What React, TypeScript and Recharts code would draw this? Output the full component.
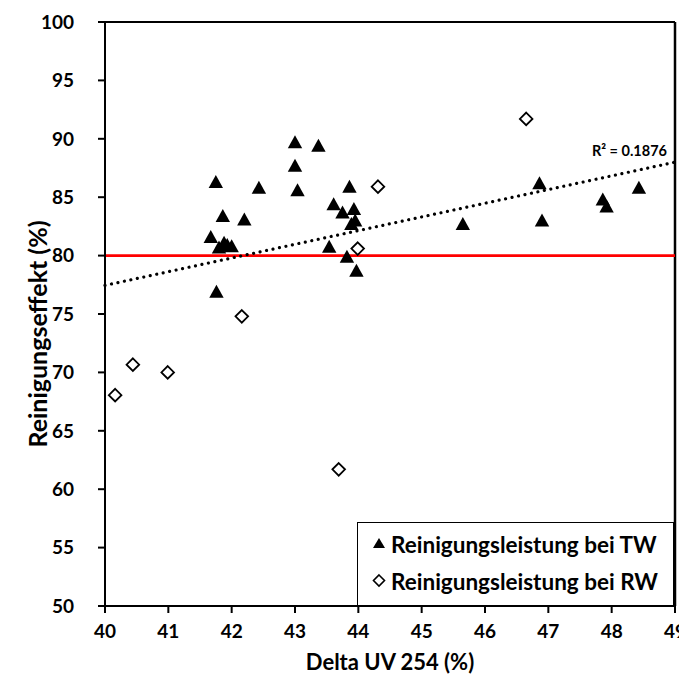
import React from "react";
import {
  ScatterChart,
  Scatter,
  XAxis,
  YAxis,
  ReferenceLine,
  ReferenceDot,
  Legend,
} from "recharts";

const twX = [41.67, 41.75, 41.76, 41.8, 41.88, 41.86, 42.0, 41.93, 42.2, 42.43, 43.0, 43.0, 43.04, 43.37, 43.54, 43.61, 43.75, 43.86, 43.93, 43.89, 43.95, 43.82, 43.97, 45.65, 46.86, 46.9, 47.86, 47.92, 48.43];
const twY = [81.6, 86.3, 76.9, 80.7, 81.1, 83.4, 80.8, 80.9, 83.1, 85.8, 89.7, 87.7, 85.6, 89.4, 80.75, 84.4, 83.7, 85.9, 84.0, 82.7, 83.0, 79.9, 78.7, 82.7, 86.2, 83.0, 84.8, 84.2, 85.8];

const rwX = [40.16, 40.44, 40.99, 42.16, 43.69, 43.99, 44.31, 46.65];
const rwY = [68.05, 70.66, 70.0, 74.8, 61.7, 80.6, 85.9, 91.7];

const trendX = [40, 49];
const trendY = [77.45, 88.0];
const rSquaredLabel = "R² = 0.1876";

const xTicks = [40, 41, 42, 43, 44, 45, 46, 47, 48, 49];
const yTicks = [50, 55, 60, 65, 70, 75, 80, 85, 90, 95, 100];
const thresholdY = 80;

const seriesNames = ["Reinigungsleistung bei TW", "Reinigungsleistung bei RW"];

const twData = twX.map((x, i) => ({ x, y: twY[i] }));
const rwData = rwX.map((x, i) => ({ x, y: rwY[i] }));

const FONT = "Lato, 'Open Sans', sans-serif";

const Triangle = (props: any) => {
  const { cx, cy } = props;
  return (
    <polygon
      points={`${cx},${cy - 7} ${cx + 7.2},${cy + 6} ${cx - 7.2},${cy + 6}`}
      fill="#000"
    />
  );
};

const Diamond = (props: any) => {
  const { cx, cy } = props;
  return (
    <polygon
      points={`${cx},${cy - 6.3} ${cx + 6.3},${cy} ${cx},${cy + 6.3} ${cx - 6.3},${cy}`}
      fill="#fff"
      stroke="#000"
      strokeWidth={1.8}
    />
  );
};

const LegendBox = () => (
  <div
    style={{
      width: 317,
      height: 84,
      boxSizing: "border-box",
      border: "1.5px solid #000",
      background: "#fff",
      fontFamily: FONT,
      fontWeight: 700,
      fontSize: 22.5,
      color: "#000",
      position: "relative",
    }}
  >
    {seriesNames.map((name, i) => (
      <div
        key={name}
        style={{
          position: "absolute",
          left: 11,
          top: i === 0 ? 6 : 43,
          height: 30,
          display: "flex",
          alignItems: "center",
          whiteSpace: "nowrap",
        }}
      >
        <svg width={20} height={20} style={{ marginRight: 2 }}>
          {i === 0 ? (
            <polygon points="10,4 16,14 4,14" fill="#000" />
          ) : (
            <polygon points="10,4 15.5,9.5 10,15 4.5,9.5" fill="#fff" stroke="#000" strokeWidth={1.6} />
          )}
        </svg>
        <span>{name}</span>
      </div>
    ))}
  </div>
);

const YTitle = (props: any) => {
  const vb = props.viewBox || { x: 0, y: 0, width: 0, height: 0 };
  const cx = vb.x + 29;
  const cy = vb.y + vb.height / 2 + 20;
  return (
    <text
      x={cx}
      y={cy}
      transform={`rotate(-90, ${cx}, ${cy})`}
      textAnchor="middle"
      dominantBaseline="central"
      fontFamily={FONT}
      fontWeight={700}
      fontSize={25}
      fill="#000"
    >
      Reinigungseffekt (%)
    </text>
  );
};

const RLabel = (props: any) => {
  const vb = props.viewBox || { x: 0, y: 0 };
  return (
    <text
      x={vb.x - 8}
      y={vb.y - 6}
      textAnchor="end"
      fontFamily={FONT}
      fontWeight={700}
      fontSize={14.5}
      fill="#000"
    >
      {rSquaredLabel}
    </text>
  );
};

export default function App() {
  const tickStyle = { fontFamily: FONT, fontWeight: 700, fontSize: 19, fill: "#000" };
  return (
    <ScatterChart
      width={679}
      height={677}
      margin={{ top: 14, right: 12, bottom: 0, left: 0 }}
      style={{ background: "#fff" }}
    >
      <XAxis
        type="number"
        dataKey="x"
        domain={[40, 49]}
        ticks={xTicks}
        allowDataOverflow
        height={79}
        tickSize={7}
        tickMargin={12}
        stroke="#000"
        strokeWidth={2}
        tick={tickStyle}
        label={{
          value: "Delta UV 254 (%)",
          position: "insideBottom",
          offset: 15,
          style: { fontFamily: FONT, fontWeight: 700, fontSize: 22, fill: "#000" },
        }}
      />
      <YAxis
        type="number"
        dataKey="y"
        domain={[50, 100]}
        ticks={yTicks}
        allowDataOverflow
        width={97}
        tickSize={7}
        tickMargin={24}
        stroke="#000"
        strokeWidth={2}
        tick={tickStyle}
        label={<YTitle />}
      />
      <ReferenceLine y={100} stroke="#000" strokeWidth={2} />
      <ReferenceLine x={49} stroke="#000" strokeWidth={2.5} />
      <ReferenceLine y={thresholdY} stroke="#FF0000" strokeWidth={2.6} />
      <ReferenceLine
        segment={[
          { x: trendX[0], y: trendY[0] },
          { x: trendX[1], y: trendY[1] },
        ]}
        stroke="#000"
        strokeWidth={3.2}
        strokeDasharray="0.01 6.6"
        strokeLinecap="round"
      />
      <Scatter name={seriesNames[0]} data={twData} shape={<Triangle />} isAnimationActive={false} />
      <Scatter name={seriesNames[1]} data={rwData} shape={<Diamond />} isAnimationActive={false} />
      <ReferenceDot
        x={trendX[1]}
        y={trendY[1]}
        r={0}
        fill="none"
        stroke="none"
        label={<RLabel />}
      />
      <Legend
        layout="horizontal"
        verticalAlign="middle"
        align="center"
        content={<LegendBox />}
        wrapperStyle={{ position: "absolute", left: 349, top: 514, width: 317, height: 84 }}
      />
    </ScatterChart>
  );
}
